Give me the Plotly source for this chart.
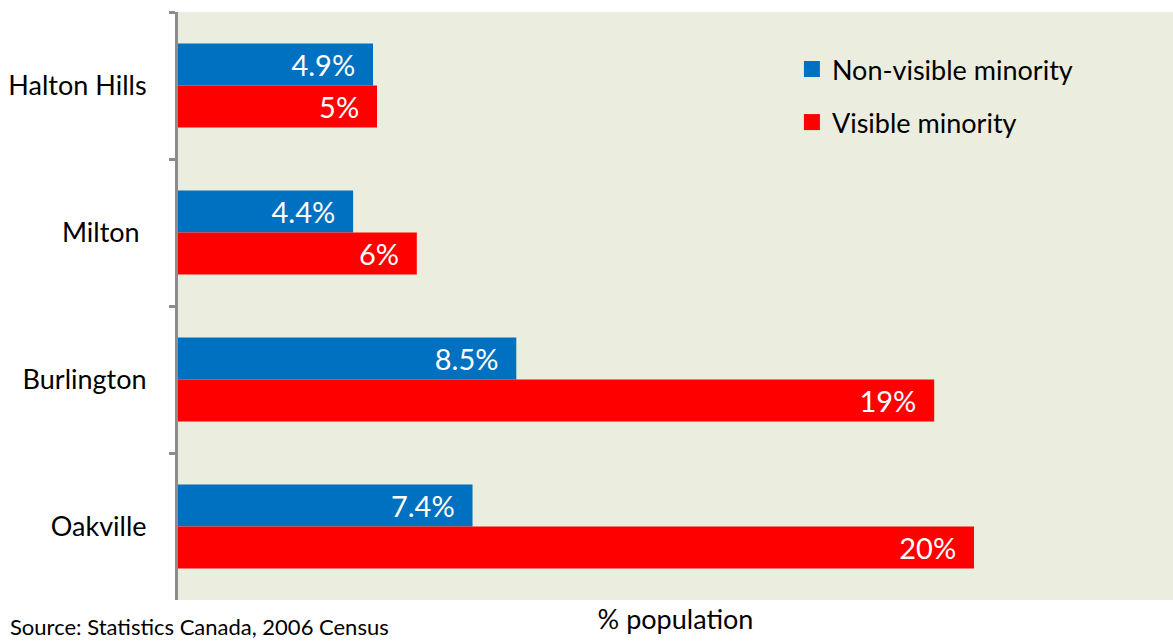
import plotly.graph_objects as go

categories = ["Halton Hills", "Milton ", "Burlington", "Oakville"]
non_visible = [4.9, 4.4, 8.5, 7.4]
visible = [5, 6, 19, 20]
non_visible_labels = ["4.9%", "4.4%", "8.5%", "7.4%"]
visible_labels = ["5%", "6%", "19%", "20%"]
series_names = ["Non-visible minority", "Visible minority"]
series_colors = ["#0070C0", "#FF0000"]

FONT = "Lato, Open Sans, sans-serif"
pad = "\u00a0\u00a0"

fig = go.Figure()
for vals, labels, name, color in [(non_visible, non_visible_labels, series_names[0], series_colors[0]),
                                  (visible, visible_labels, series_names[1], series_colors[1])]:
    fig.add_trace(go.Bar(
        y=categories, x=vals, orientation="h", name=name,
        marker=dict(color=color, line=dict(width=0)),
        text=[t + pad for t in labels], textposition="inside",
        insidetextanchor="end", textfont=dict(color="white", size=29, family=FONT),
        showlegend=False,
    ))
# legend entries with larger square swatches
for i, (name, color) in enumerate(zip(series_names, series_colors)):
    fig.add_trace(go.Scatter(
        x=[None], y=[None], mode="markers", name=name,
        marker=dict(symbol="square", size=18, color=color),
        legendgroup=str(i), showlegend=True,
    ))

fig.update_layout(
    width=1173, height=641,
    margin=dict(l=178, r=0, t=12, b=41),
    paper_bgcolor="white", plot_bgcolor="#EBEEDE",
    barmode="group", bargap=0.43, bargroupgap=0,
    font=dict(family=FONT, size=27, color="black"),
    showlegend=True,
    legend=dict(x=0.617, y=0.944, xanchor="left", yanchor="top",
                bgcolor="rgba(0,0,0,0)", font=dict(size=27, family=FONT),
                traceorder="grouped", tracegroupgap=15, itemsizing="trace"),
    xaxis=dict(range=[0, 25], showgrid=False, zeroline=False, showline=False,
               showticklabels=False, ticks="",
               title=dict(text="% population", font=dict(size=27), standoff=10)),
    yaxis=dict(autorange="reversed", showgrid=False, zeroline=False,
               showline=True, linecolor="#8C8C8C", linewidth=3,
               ticks="outside", ticklen=6, tickwidth=3, tickcolor="#8C8C8C",
               tickson="boundaries", ticklabelstandoff=23,
               tickfont=dict(size=27, family=FONT)),
    annotations=[dict(text="Source: Statistics Canada, 2006 Census",
                      xref="paper", yref="paper", x=0.0, y=-0.045,
                      xanchor="left", yanchor="middle", showarrow=False,
                      xshift=-170,
                      font=dict(size=22, family=FONT))],
)

fig.write_html(
    "out.html",
    config={"displayModeBar": False},
    post_script="document.body.style.margin='0';document.documentElement.style.overflow='hidden';",
)
